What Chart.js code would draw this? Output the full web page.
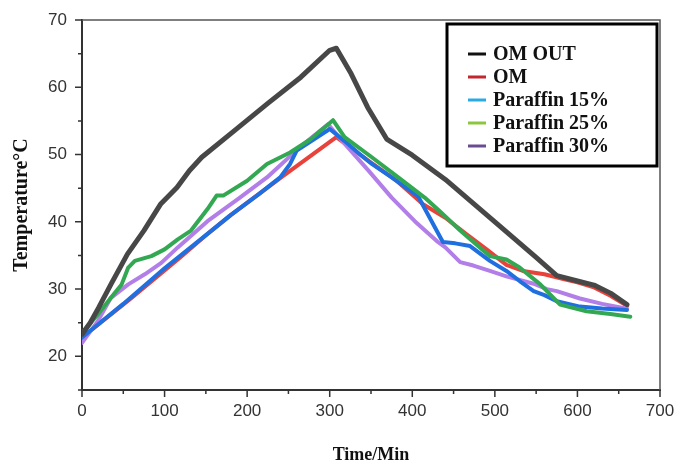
<!DOCTYPE html>
<html>
<head>
<meta charset="utf-8">
<script src="https://cdn.jsdelivr.net/npm/chart.js@4.4.1/dist/chart.umd.min.js"></script>
<style>
  html, body { margin: 0; padding: 0; background: #fff; }
  #wrap { width: 695px; height: 466px; }
</style>
</head>
<body>
<div id="wrap"><canvas id="c" width="695" height="466"></canvas></div>
<script>
// ---- data ----
const seriesLabels = ['OM OUT', 'OM', 'Paraffin 15%', 'Paraffin 25%', 'Paraffin 30%'];

const omOutTime = [0, 10, 20, 35, 55, 75, 95, 115, 130, 145, 185, 225, 265, 300, 308, 326, 346, 369, 400, 440, 500, 550, 575, 600, 620, 640, 660];
const omOutTemp = [23.3, 25.0, 27.2, 30.7, 35.2, 38.7, 42.6, 45.1, 47.6, 49.6, 53.6, 57.6, 61.5, 65.5, 65.8, 62.0, 57.0, 52.3, 49.9, 46.3, 40.0, 34.7, 32.0, 31.2, 30.6, 29.4, 27.7];

const omTime = [0, 60, 120, 150, 180, 240, 308, 330, 350, 380, 413, 440, 465, 490, 514, 534, 560, 583, 600, 619, 640, 660];
const omTemp = [22.8, 28.7, 34.8, 38.0, 41.0, 46.5, 52.6, 50.6, 48.8, 46.2, 42.6, 40.6, 38.2, 35.9, 33.6, 32.7, 32.2, 31.5, 31.0, 30.3, 29.0, 27.5];

const p15Time = [0, 50, 100, 152, 180, 215, 240, 252, 260, 280, 300, 318, 335, 351, 375, 407, 437, 452, 470, 494, 514, 530, 547, 560, 575, 603, 630, 660];
const p15Temp = [22.8, 27.8, 33.1, 38.2, 41.0, 44.2, 46.6, 48.6, 50.6, 52.2, 53.8, 52.0, 50.2, 48.6, 46.6, 43.8, 37.0, 36.8, 36.4, 34.2, 32.7, 31.2, 29.7, 29.1, 28.2, 27.4, 27.1, 26.9];

const p25Time = [0, 19, 35, 48, 56, 64, 84, 100, 116, 132, 152, 163, 171, 200, 224, 252, 276, 304, 318, 351, 383, 415, 433, 458, 494, 514, 530, 555, 579, 611, 640, 664];
const p25Temp = [23.5, 26.2, 28.7, 30.7, 33.2, 34.2, 34.9, 35.9, 37.4, 38.7, 41.9, 43.9, 43.9, 46.1, 48.6, 50.3, 52.2, 55.1, 52.6, 49.6, 46.6, 43.6, 41.6, 38.7, 34.9, 34.4, 33.2, 30.7, 27.7, 26.7, 26.3, 25.9];

const p30Time = [0, 19, 35, 56, 76, 96, 116, 152, 190, 224, 264, 298, 318, 347, 375, 403, 431, 440, 458, 474, 494, 514, 547, 563, 575, 603, 630, 660];
const p30Temp = [22.0, 25.2, 28.7, 30.7, 32.2, 33.9, 36.2, 40.1, 43.5, 46.6, 51.1, 54.5, 51.6, 47.6, 43.6, 40.1, 37.0, 36.2, 34.0, 33.5, 32.7, 31.9, 30.8, 30.0, 29.7, 28.6, 27.8, 27.1];

const xTickValues = [0, 100, 200, 300, 400, 500, 600, 700];
const yTickValues = [20, 30, 40, 50, 60, 70];

// ---- styles ----
const lineColors = ['#474747', '#e8423b', '#1f6fe0', '#33a852', '#b27ee8'];
const legendColors = ['#111111', '#c1272d', '#29abe2', '#8cc63f', '#6a4c93'];
const lineWidths = [5, 4, 4, 4, 4];

function pts(t, v) { return t.map((x, i) => ({ x: x, y: v[i] })); }
const allData = [pts(omOutTime, omOutTemp), pts(omTime, omTemp), pts(p15Time, p15Temp), pts(p25Time, p25Temp), pts(p30Time, p30Temp)];

// draw order: purple, blue, red, green, black? keep reference stacking
const datasets = seriesLabels.map((lab, i) => ({
  label: lab,
  data: allData[i],
  borderColor: lineColors[i],
  backgroundColor: lineColors[i],
  borderWidth: lineWidths[i],
  pointRadius: 0,
  tension: 0,
  fill: false,
  borderJoinStyle: 'round',
  borderCapStyle: 'round',
  order: [0, 4, 2, 1, 3][i]
}));

const framePlugin = {
  id: 'frame',
  afterDraw(chart) {
    const ctx = chart.ctx;
    const a = chart.chartArea;
    const xs = chart.scales.x, ys = chart.scales.y;
    ctx.save();
    // top & right frame
    ctx.strokeStyle = '#555';
    ctx.lineWidth = 1.5;
    ctx.beginPath();
    ctx.moveTo(a.left, a.top); ctx.lineTo(a.right, a.top); ctx.lineTo(a.right, a.bottom);
    ctx.stroke();
    // ticks
    ctx.strokeStyle = '#333';
    ctx.lineWidth = 1.5;
    ctx.beginPath();
    for (let v = xs.min; v <= xs.max; v += 50) {
      const px = xs.getPixelForValue(v);
      const len = (v % 100 === 0) ? 7 : 4;
      ctx.moveTo(px, a.bottom); ctx.lineTo(px, a.bottom + len);
    }
    for (let v = ys.min; v <= ys.max; v += 5) {
      const py = ys.getPixelForValue(v);
      const len = (v % 10 === 0) ? 7 : 4;
      ctx.moveTo(a.left, py); ctx.lineTo(a.left - len, py);
    }
    ctx.stroke();
    // legend box
    const bx = 447, by = 24, bw = 210, bh = 142;
    ctx.strokeStyle = '#000';
    ctx.lineWidth = 3;
    ctx.strokeRect(bx, by, bw, bh);
    ctx.font = 'bold 20px "Liberation Serif"';
    ctx.textBaseline = 'middle';
    ctx.textAlign = 'left';
    chart.data.datasets.forEach((ds, i) => {
      const y = by + 30 + i * 23;
      ctx.strokeStyle = legendColors[i];
      ctx.lineWidth = 3;
      ctx.beginPath();
      ctx.moveTo(bx + 21, y); ctx.lineTo(bx + 39, y);
      ctx.stroke();
      ctx.fillStyle = '#111';
      ctx.fillText(ds.label, bx + 46, y + 1);
    });
    ctx.restore();
  }
};

new Chart(document.getElementById('c'), {
  type: 'line',
  data: { datasets: datasets },
  options: {
    responsive: false,
    animation: false,
    layout: { padding: { left: 0, right: 35, top: 20, bottom: 0 } },
    plugins: { legend: { display: false }, tooltip: { enabled: false } },
    scales: {
      x: {
        type: 'linear', min: 0, max: 700,
        afterFit(s) { s.height = 76; },
        afterBuildTicks(s) { s.ticks = xTickValues.map(v => ({ value: v })); },
        ticks: { autoSkip: false, maxRotation: 0, padding: 4, color: '#333', font: { family: '"Liberation Sans"', size: 17 } },
        grid: { drawOnChartArea: false, drawTicks: true, tickLength: 7, tickColor: 'rgba(0,0,0,0)' },
        border: { display: true, color: '#333', width: 2 },
        title: { display: true, text: 'Time/Min', color: '#111', padding: { top: 0, bottom: 0 }, font: { family: '"Liberation Serif"', size: 18, weight: 'bold' } }
      },
      y: {
        type: 'linear', min: 15, max: 70,
        afterFit(s) { s.width = 82; },
        afterBuildTicks(s) { s.ticks = yTickValues.map(v => ({ value: v })); },
        ticks: { autoSkip: false, padding: 8, color: '#333', font: { family: '"Liberation Sans"', size: 17 } },
        grid: { drawOnChartArea: false, drawTicks: true, tickLength: 7, tickColor: 'rgba(0,0,0,0)' },
        border: { display: true, color: '#333', width: 2 },
        title: { display: true, text: 'Temperature°C', color: '#111', padding: { top: 10, bottom: 0 }, font: { family: '"Liberation Serif"', size: 20, weight: 'bold' } }
      }
    }
  },
  plugins: [framePlugin]
});
</script>
</body>
</html>
